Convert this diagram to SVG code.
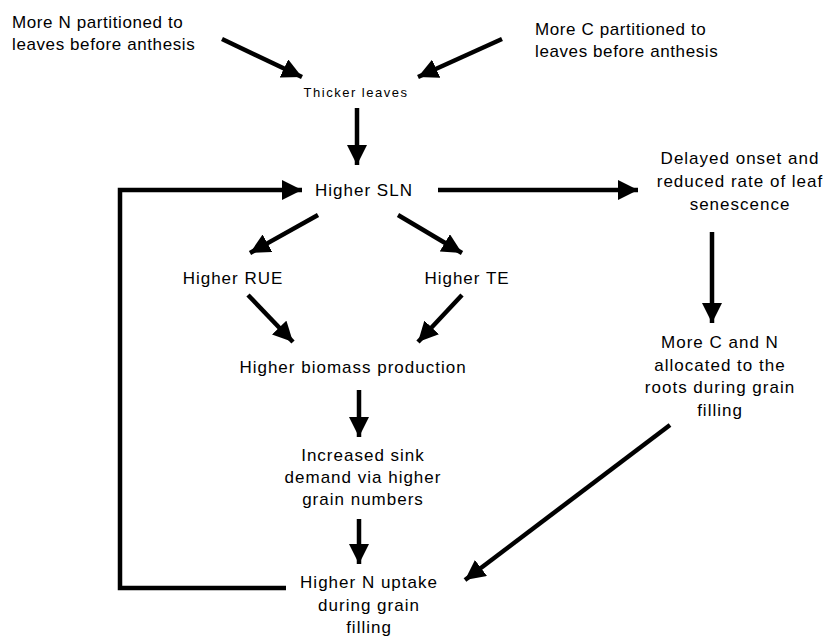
<svg xmlns="http://www.w3.org/2000/svg" width="830" height="636" viewBox="0 0 830 636">
<style>
text{font-family:"Liberation Sans",Arial,sans-serif;font-size:17px;letter-spacing:1px;fill:#000}
.t{letter-spacing:0.6px}
.m{text-anchor:middle}
.s{font-size:13px;letter-spacing:1.5px}
.c{stroke:#000;stroke-width:4.5;fill:none;marker-end:url(#ah)}
</style>
<defs>
<marker id="ah" markerUnits="userSpaceOnUse" markerWidth="22" markerHeight="20" refX="20" refY="10" orient="auto" viewBox="0 0 22 20">
<path d="M0,0 L20,10 L0,20 z" fill="#000"/>
</marker>
</defs>
<rect width="830" height="636" fill="#fff"/>
<g id="connectors">
<line class="c" x1="222" y1="39" x2="302" y2="77"/>
<line class="c" x1="502" y1="39" x2="418" y2="77"/>
<line class="c" x1="357" y1="108" x2="357" y2="165"/>
<polyline class="c" points="286,588 120,588 120,190 302,190"/>
<line class="c" x1="438" y1="190" x2="638" y2="190"/>
<line class="c" x1="318" y1="215" x2="250" y2="253"/>
<line class="c" x1="398" y1="215" x2="462" y2="253"/>
<line class="c" x1="248" y1="295" x2="293" y2="342"/>
<line class="c" x1="462" y1="295" x2="418" y2="342"/>
<line class="c" x1="359" y1="390" x2="359" y2="437"/>
<line class="c" x1="359" y1="519" x2="359" y2="564"/>
<line class="c" x1="712" y1="232" x2="712" y2="323"/>
<line class="c" x1="670" y1="425" x2="465" y2="580"/>
</g>
<g id="n_topleft" class="t"><text class="t" x="12" y="28">More N partitioned to</text><text class="t" x="12" y="50">leaves before anthesis</text></g>
<g id="n_topright"><text class="t" x="535" y="35">More C partitioned to</text><text class="t" x="535" y="57">leaves before anthesis</text></g>
<g id="n_thicker"><text class="m s" x="356" y="97">Thicker leaves</text></g>
<g id="n_sln"><text class="m" x="364" y="196">Higher SLN</text></g>
<g id="n_delayed"><text class="m" x="740" y="164">Delayed onset and</text><text class="m" x="740" y="187">reduced rate of leaf</text><text class="m" x="740" y="210">senescence</text></g>
<g id="n_rue"><text class="m" x="233" y="284">Higher RUE</text></g>
<g id="n_te"><text class="m" x="467" y="284">Higher TE</text></g>
<g id="n_biomass"><text class="m" x="353" y="373">Higher biomass production</text></g>
<g id="n_sink"><text class="m" x="363" y="461">Increased sink</text><text class="m" x="363" y="483">demand via higher</text><text class="m" x="363" y="505">grain numbers</text></g>
<g id="n_uptake"><text class="m" x="369" y="588">Higher N uptake</text><text class="m" x="369" y="611">during grain</text><text class="m" x="369" y="633">filling</text></g>
<g id="n_roots"><text class="m" x="720" y="348">More C and N</text><text class="m" x="720" y="371">allocated to the</text><text class="m" x="720" y="393">roots during grain</text><text class="m" x="720" y="416">filling</text></g>
</svg>
